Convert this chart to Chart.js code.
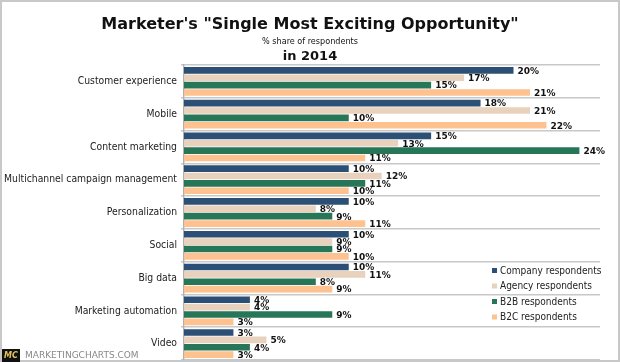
<!DOCTYPE html>
<html>
<head>
<meta charset="utf-8">
<script src="https://cdn.jsdelivr.net/npm/chart.js@4"></script>
<style>
  body { margin: 0; background: #fff; }
  #wrap { width: 620px; height: 362px; position: relative; }
</style>
</head>
<body>
<div id="wrap"><canvas id="chart" width="620" height="362"></canvas></div>
<script>
'use strict';

// data
const categories = ["Customer experience", "Mobile", "Content marketing", "Multichannel campaign management",
    "Personalization", "Social", "Big data", "Marketing automation", "Video"];
const company = [20, 18, 15, 10, 10, 10, 10, 4, 3];
const agency = [17, 21, 13, 12, 8, 9, 11, 4, 5];
const b2b = [15, 10, 24, 11, 9, 9, 8, 9, 4];
const b2c = [21, 22, 11, 10, 11, 10, 9, 3, 3];
const seriesNames = ["Company respondents", "Agency respondents", "B2B respondents", "B2C respondents"];
const colores = ["#2c4f75", "#e8d1bd", "#287658", "#fec190"];

const font = "'DejaVu Sans', Verdana, sans-serif";
const fontCond = "'DejaVu Sans Condensed', 'DejaVu Sans', sans-serif";

// titulo, etiquetas, leyenda, logo
let extras = {
    id: 'extras',
    afterDraw: (chart) => {
        let ctx = chart.ctx;
        ctx.save();
        // marco
        ctx.strokeStyle = "#c8c8c8";
        ctx.lineWidth = 2;
        ctx.strokeRect(1, 1, 618, 360);

        ctx.fillStyle = "#111";
        ctx.textAlign = "center";
        ctx.textBaseline = "middle";
        ctx.font = "bold 16px " + font;
        ctx.fillText("Marketer's \"Single Most Exciting Opportunity\"", 310, 25);
        ctx.font = "9px " + fontCond;
        ctx.fillText("% share of respondents", 310, 42);
        ctx.font = "bold 13px " + font;
        ctx.fillText("in 2014", 310, 57);

        // etiquetas de valores
        ctx.font = "bold 9px " + font;
        ctx.textAlign = "left";
        chart.data.datasets.forEach((ds, i) => {
            let meta = chart.getDatasetMeta(i);
            meta.data.forEach((bar, j) => {
                ctx.fillText(ds.data[j] + "%", bar.x + 4, bar.y + 1);
            });
        });

        // leyenda
        ctx.font = "10px " + fontCond;
        for (let i = 0; i < seriesNames.length; i++) {
            let y = 271 + i * 15.5;
            ctx.fillStyle = colores[i];
            ctx.fillRect(492, y - 3, 5, 5);
            ctx.fillStyle = "#222";
            ctx.fillText(seriesNames[i], 500, y);
        }

        // logo
        ctx.fillStyle = "#111";
        ctx.fillRect(2, 349, 18, 13);
        ctx.fillStyle = "#e6c65a";
        ctx.font = "italic bold 8px " + font;
        ctx.fillText("MC", 4, 356);
        ctx.fillStyle = "#888";
        ctx.font = "9px " + font;
        ctx.fillText("MARKETINGCHARTS.COM", 25, 356);
        ctx.restore();
    }
};

let datasets = [company, agency, b2b, b2c].map((d, i) => ({
    label: seriesNames[i],
    data: d,
    backgroundColor: colores[i],
    barPercentage: 0.9,
    categoryPercentage: 0.9
}));

new Chart(document.getElementById("chart"), {
    type: 'bar',
    data: { labels: categories, datasets: datasets },
    plugins: [extras],
    options: {
        indexAxis: 'y',
        responsive: false,
        animation: false,
        layout: { padding: { top: 65, bottom: 2, right: 20, left: 0 } },
        plugins: {
            legend: { display: false },
            tooltip: { enabled: false }
        },
        scales: {
            x: { display: false, min: 0, max: 25.25 },
            y: {
                afterFit: (scale) => {
                    scale.width = 184;
                    scale.paddingTop = 0;
                    scale.paddingBottom = 0;
                },
                grid: { offset: true, color: "#c8c8c8", lineWidth: 1.5, tickLength: 3 },
                border: { color: "#b0b0b0", width: 1.5 },
                ticks: { color: "#222", font: { family: fontCond, size: 10.3 }, padding: 4 }
            }
        }
    }
});
</script>
</body>
</html>
